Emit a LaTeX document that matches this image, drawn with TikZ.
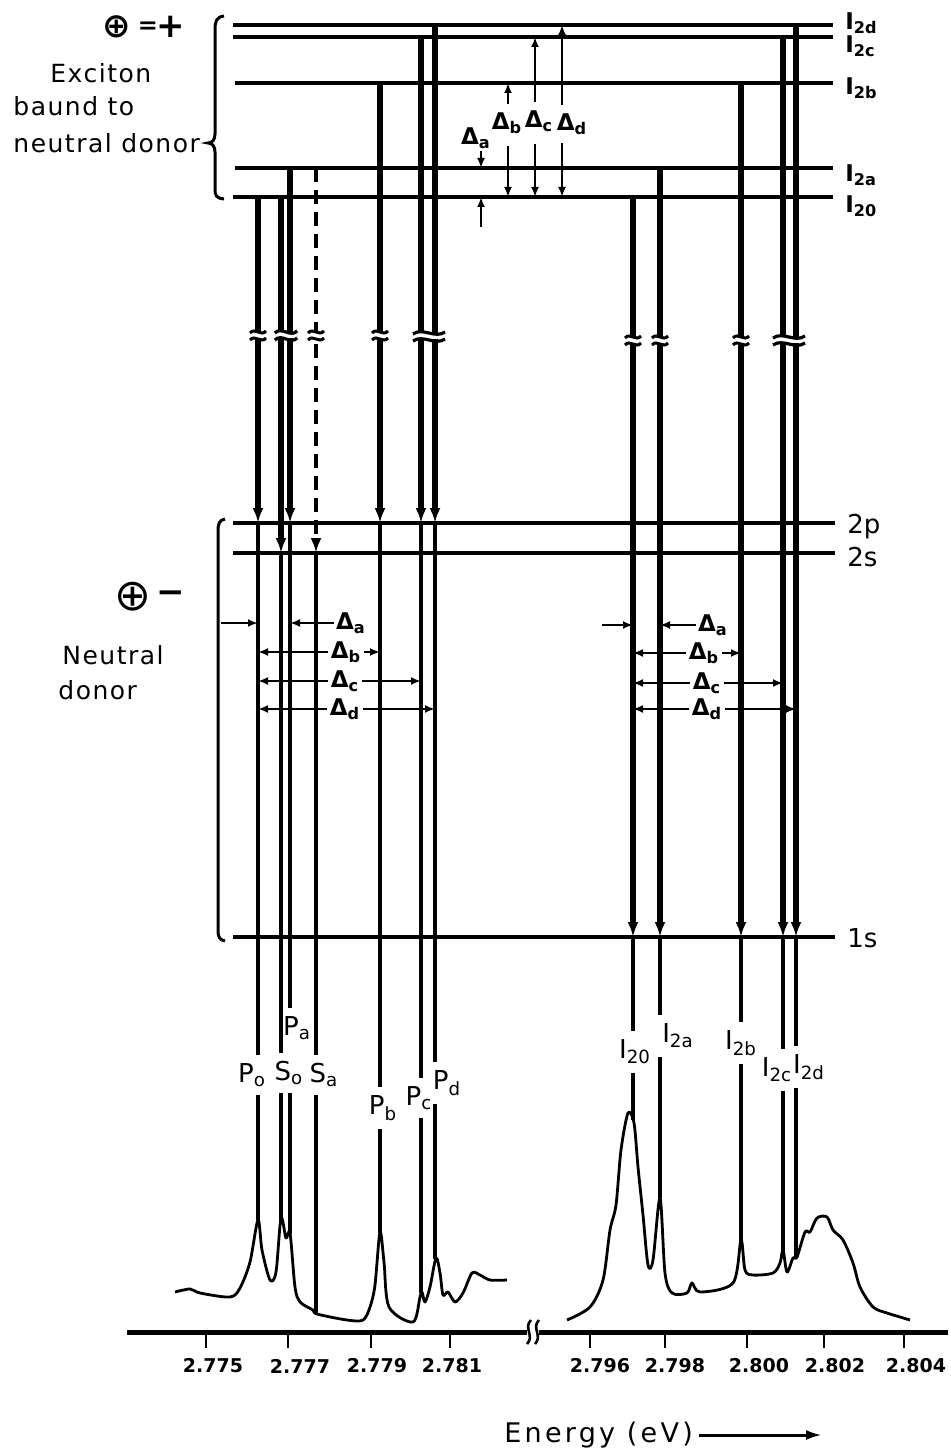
\documentclass[tikz,border=0pt]{standalone}
\usepackage{fontspec}
\setmainfont{DejaVu Sans}
\newfontfamily\spaced[LetterSpace=6]{DejaVu Sans}
\newfontfamily\wide[LetterSpace=12]{DejaVu Sans}
\usetikzlibrary{arrows.meta}

\begin{document}
\begin{tikzpicture}[x=0.5pt, y=-0.5pt,
    >={Latex[length=7.5pt,width=5.5pt]},
    level/.style={line width=2.3pt},
    trans/.style={->, line width=2.7pt},
    tail/.style={line width=1.7pt},
    dlt/.style={-{Latex[length=5pt,width=4pt]}, line width=1.2pt},
    spec/.style={line width=1.4pt, line join=round},
    lvl/.style={anchor=west, font=\bfseries\fontsize{11.5}{12}\selectfont, inner sep=1pt},
    shell/.style={anchor=west, font=\fontsize{13}{14}\selectfont, inner sep=1pt},
    dname/.style={font=\bfseries\fontsize{11.5}{12}\selectfont, inner sep=1pt},
    pk/.style={font=\fontsize{13}{14}\selectfont, inner sep=4pt},
    txt/.style={font=\spaced\fontsize{12.5}{16}\selectfont, inner sep=0pt, anchor=west},
    sign/.style={font=\bfseries\fontsize{17}{18}\selectfont, inner sep=0pt},
    tick/.style={font=\bfseries\fontsize{9.5}{10}\selectfont},
    brk/.pic={
      \fill[white] (-9,-3) rectangle (9,3);
      \draw[line width=1.5pt] (-8,-2) .. controls (-3,-8) and (3,2) .. (8,-4);
      \draw[line width=1.5pt] (-8,5) .. controls (-3,-1) and (3,9) .. (8,3);
    },
    brkw/.pic={
      \fill[white] (-17,-3) rectangle (17,3);
      \draw[line width=1.6pt] (-16,-2) .. controls (-6,-9) and (6,3) .. (16,-4);
      \draw[line width=1.6pt] (-16,5) .. controls (-6,-2) and (6,10) .. (16,3);
    },
]
\useasboundingbox (0,0) rectangle (950,1454);

% exciton bound to neutral donor
\draw[level] (233,25) -- (833,25) coordinate (I2d);
\draw[level] (233,37) -- (833,37) coordinate (I2c);
\draw[level] (235,83) -- (833,83) coordinate (I2b);
\draw[level] (235,168) -- (833,168) coordinate (I2a);
\draw[level] (233,197) -- (833,197) coordinate (I20);
\node[lvl] (tI2d) at (843,23) {I\textsubscript{2d}};
\node[lvl] (tI2c) at (843,46) {I\textsubscript{2c}};
\node[lvl] (tI2b) at (843,88) {I\textsubscript{2b}};
\node[lvl] (tI2a) at (843,175) {I\textsubscript{2a}};
\node[lvl] (tI20) at (843,206) {I\textsubscript{20}};

% neutral donor
\draw[level] (233,523) -- (835,523) coordinate (2p);
\draw[level] (233,553) -- (835,553) coordinate (2s);
\draw[level] (233,937) -- (835,937) coordinate (1s);
\node[shell] (t2p) at (845,527) {2p};
\node[shell] (t2s) at (845,557) {2s};
\node[shell] (t1s) at (845,938) {1s};

\draw[line width=1.5pt] (224,16) .. controls (216,17) and (215,22) .. (215,30) -- (215,134)
  .. controls (215,140) and (212,143) .. (208,143) .. controls (212,143) and (215,146) .. (215,152)
  -- (215,188) .. controls (215,196) and (216,198) .. (224,199);
\draw[line width=1.5pt] (225,519) .. controls (219,520) and (218,524) .. (218,532) -- (218,930)
  .. controls (218,936) and (219,940) .. (225,941);

\node[sign] (plus1) at (117,27) {⊕};
\node[sign, font=\bfseries\fontsize{12}{12}\selectfont] (eq1) at (148,28) {=};
\node[sign] (pl1) at (171,27) {+};
\node[txt] (exc1) at (50,73) {Exciton};
\node[txt] (exc2) at (13,106) {baund to};
\node[txt] (exc3) at (13,143) {neutral donor};
\node[sign, font=\fontsize{22}{22}\selectfont] (plus2) at (133,597) {⊕};
\node[sign] (mi2) at (171,597) {−};
\node[txt] (don1) at (62,655) {Neutral};
\node[txt] (don2) at (58,690) {donor};

% transitions
\coordinate (po) at (258,0);
\coordinate (so) at (281,0);
\coordinate (pa) at (290,0);
\coordinate (sa) at (316,0);
\coordinate (pb) at (380,0);
\coordinate (pc) at (421,0);
\coordinate (pd) at (435,0);
\coordinate (i0) at (633,0);
\coordinate (ia) at (660,0);
\coordinate (ib) at (741,0);
\coordinate (ic) at (783,0);
\coordinate (id) at (796,0);

\draw[trans] (po |- I20) -- (po |- 2p);
\draw[trans] (so |- I20) -- (so |- 2s);
\draw[trans] (pa |- I2a) -- (pa |- 2p);
\draw[trans, line width=2pt, dash pattern=on 7pt off 4pt] (sa |- I2a) -- (sa |- 2s);
\draw[trans] (pb |- I2b) -- (pb |- 2p);
\draw[trans] (pc |- I2c) -- (pc |- 2p);
\draw[trans] (pd |- I2d) -- (pd |- 2p);
\draw[trans] (i0 |- I20) -- (i0 |- 1s);
\draw[trans] (ia |- I2a) -- (ia |- 1s);
\draw[trans] (ib |- I2b) -- (ib |- 1s);
\draw[trans] (ic |- I2c) -- (ic |- 1s);
\draw[trans] (id |- I2d) -- (id |- 1s);

\pic at (258,335) {brk};
\pic[xscale=0.7] at (286,335) {brkw};
\pic at (316,335) {brk};
\pic at (380,335) {brk};
\pic at (429,336) {brkw};
\pic at (633,340) {brk};
\pic at (660,340) {brk};
\pic at (741,340) {brk};
\pic at (789,340) {brkw};

% splittings of the excited state
\coordinate (da) at (481,0);
\coordinate (db) at (508,0);
\coordinate (dc) at (535,0);
\coordinate (dd) at (562,0);
\coordinate (ua) at (481,227);
\node[dname] (ta) at (476,138) {Δ\textsubscript{a}};
\node[dname] (tb) at (507,123) {Δ\textsubscript{b}};
\node[dname] (tc) at (539,121) {Δ\textsubscript{c}};
\node[dname] (td) at (572,124) {Δ\textsubscript{d}};
\draw[dlt] (da |- ta.south) -- (da |- I2a);
\draw[dlt] (ua) -- (da |- I20);
\draw[dlt] ([yshift=3pt]db |- tb.north) -- (db |- I2b);
\draw[dlt] ([yshift=-5pt]db |- tb.south) -- (db |- I20);
\draw[dlt] ([yshift=3pt]dc |- tc.north) -- (dc |- I2c);
\draw[dlt] ([yshift=-5pt]dc |- tc.south) -- (dc |- I20);
\draw[dlt] ([yshift=3pt]dd |- td.north) -- (dd |- I2d);
\draw[dlt] ([yshift=-3pt]dd |- td.south) -- (dd |- I20);

% splittings seen in the spectrum
\coordinate (oa) at (221,623);
\coordinate (ob) at (602,625);
\node[dname] (la) at (351,623) {Δ\textsubscript{a}};
\node[dname] (lb) at (346,652) {Δ\textsubscript{b}};
\node[dname] (lc) at (345,681) {Δ\textsubscript{c}};
\node[dname] (ld) at (345,709) {Δ\textsubscript{d}};
\draw[dlt] (oa) -- (po |- la);
\draw[dlt] (la.west) -- (pa |- la);
\draw[dlt] (lb.west) -- (po |- lb);
\draw[dlt] (lb.east) -- (pb |- lb);
\draw[dlt] (lc.west) -- (po |- lc);
\draw[dlt] (lc.east) -- (pc |- lc);
\draw[dlt] (ld.west) -- (po |- ld);
\draw[dlt] (ld.east) -- (pd |- ld);
\node[dname] (ra) at (713,625) {Δ\textsubscript{a}};
\node[dname] (rb) at (704,653) {Δ\textsubscript{b}};
\node[dname] (rc) at (707,683) {Δ\textsubscript{c}};
\node[dname] (rd) at (707,709) {Δ\textsubscript{d}};
\draw[dlt] (ob) -- (i0 |- ra);
\draw[dlt] (ra.west) -- (ia |- ra);
\draw[dlt] (rb.west) -- (i0 |- rb);
\draw[dlt] (rb.east) -- (ib |- rb);
\draw[dlt] (rc.west) -- (i0 |- rc);
\draw[dlt] (rc.east) -- (ic |- rc);
\draw[dlt] (rd.west) -- (i0 |- rd);
\draw[dlt] (rd.east) -- (id |- rd);

% lines down to the spectrum
\node[pk] (lPo) at (252,1075) {P\textsubscript{o}};
\node[pk] (lSo) at (289,1073) {S\textsubscript{o}};
\node[pk] (lPa) at (297,1028) {P\textsubscript{a}};
\node[pk] (lSa) at (324,1075) {S\textsubscript{a}};
\node[pk] (lPb) at (383,1108) {P\textsubscript{b}};
\node[pk] (lPc) at (419,1098) {P\textsubscript{c}};
\node[pk] (lPd) at (447,1083) {P\textsubscript{d}};
\node[pk] (lI0) at (635,1052) {I\textsubscript{20}};
\node[pk] (lIa) at (678,1036) {I\textsubscript{2a}};
\node[pk] (lIb) at (741,1043) {I\textsubscript{2b}};
\node[pk] (lIc) at (777,1070) {I\textsubscript{2c}};
\node[pk] (lId) at (809,1067) {I\textsubscript{2d}};

\coordinate (kPo) at (258,1220);
\coordinate (kSo) at (281,1220);
\coordinate (kPa) at (290,1234);
\coordinate (kSa) at (316,1313);
\coordinate (kPb) at (380,1233);
\coordinate (kPc) at (421,1293);
\coordinate (kPd) at (435,1259);
\coordinate (kI0) at (633,1120);
\coordinate (kIa) at (660,1198);
\coordinate (kIb) at (741,1241);
\coordinate (kIc) at (783,1251);
\coordinate (kId) at (796,1257);

\draw[tail] (po |- 2p) -- (po |- lPo.north) (po |- lPo.south) -- (kPo);
\draw[tail] (so |- 2s) -- (so |- lSo.north) (so |- lSo.south) -- (kSo);
\draw[tail] (pa |- 2p) -- (pa |- lPa.north) (pa |- lSo.south) -- (kPa);
\draw[tail] (sa |- 2s) -- (sa |- lSa.north) (sa |- lSa.south) -- (kSa);
\draw[tail] (pb |- 2p) -- (pb |- lPb.north) (pb |- lPb.south) -- (kPb);
\draw[tail] (pc |- 2p) -- (pc |- lPc.north) (pc |- lPc.south) -- (kPc);
\draw[tail] (pd |- 2p) -- (pd |- lPd.north) (pd |- lPd.south) -- (kPd);
\draw[tail] (i0 |- 1s) -- (i0 |- lI0.north) (i0 |- lI0.south) -- (kI0);
\draw[tail] (ia |- 1s) -- (ia |- lIa.north) (ia |- lIa.south) -- (kIa);
\draw[tail] (ib |- 1s) -- (ib |- lIb.north) (ib |- lIb.south) -- (kIb);
\draw[tail] (ic |- 1s) -- (ic |- lIc.north) (ic |- lIc.south) -- (kIc);
\draw[tail] (id |- 1s) -- (id |- lId.north) (id |- lId.south) -- (kId);

% spectrum
\draw[spec] plot[smooth, tension=0.5] coordinates {(175,1292) (190,1289) (200,1293) (230,1297)
  (240,1288) (250,1262) (258,1220) (262,1250) (270,1280) (276,1272) (281,1218) (286,1238)
  (290,1233) (295,1287) (300,1302) (313,1310) (317,1314) (347,1320) (363,1320) (370,1307)
  (375,1285) (380,1232) (384,1262) (389,1307) (413,1322) (420,1297) (422,1292) (425,1302)
  (430,1287) (436,1258) (440,1273) (443,1295) (448,1292) (455,1302) (463,1293) (472,1273)
  (480,1275) (490,1280) (507,1280)};
\draw[spec] plot[smooth, tension=0.5] coordinates {(567,1320) (590,1307) (603,1280) (610,1230)
  (616,1205) (621,1150) (628,1113) (634,1123) (638,1167) (643,1215) (648,1265) (653,1260)
  (660,1198) (665,1273) (672,1293) (687,1293) (692,1283) (700,1292) (733,1283) (741,1240)
  (745,1270) (753,1275) (773,1273) (780,1263) (783,1250) (787,1272) (793,1258) (797,1257)
  (805,1232) (810,1232) (817,1218) (827,1217) (833,1230) (843,1240) (853,1263) (860,1287)
  (873,1307) (887,1313) (900,1317) (910,1320)};

% energy axis
\draw[line width=2.5pt] (127,1332) -- (527,1332);
\draw[line width=2.5pt] (539,1332) -- (948,1332);
\draw[line width=1.3pt] (531,1320) .. controls (523,1328) and (535,1336) .. (527,1344);
\draw[line width=1.3pt] (539,1320) .. controls (531,1328) and (543,1336) .. (535,1344);
\draw[line width=1.2pt] (206,1334) -- ++(0,14) (288,1334) -- ++(0,14) (371,1334) -- ++(0,14)
  (450,1334) -- ++(0,14) (590,1334) -- ++(0,14) (665,1334) -- ++(0,14) (747,1334) -- ++(0,14)
  (824,1334) -- ++(0,14) (904,1334) -- ++(0,14);
\node[tick] (e1) at (213,1366) {2.775};
\node[tick] (e2) at (300,1366) {2.777};
\node[tick] (e3) at (377,1366) {2.779};
\node[tick] (e4) at (452,1366) {2.781};
\node[tick] (e5) at (600,1366) {2.796};
\node[tick] (e6) at (675,1366) {2.798};
\node[tick] (e7) at (759,1366) {2.800};
\node[tick] (e8) at (835,1366) {2.802};
\node[tick] (e9) at (916,1366) {2.804};

\node[txt, font=\wide\fontsize{13.5}{16}\selectfont] (en) at (504,1435) {Energy (eV)};
\coordinate (enr) at (822,1435);
\draw[-{Latex[length=8pt,width=5pt]}, line width=1.5pt] ([xshift=3pt]en.east) -- (enr);
\end{tikzpicture}
\end{document}
